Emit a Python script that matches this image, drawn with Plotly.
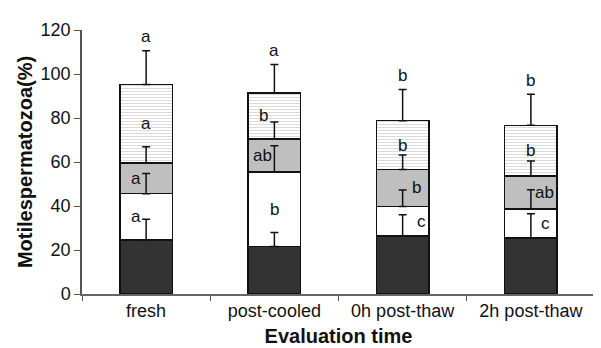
import plotly.graph_objects as go
import numpy as np

categories = ["fresh", "post-cooled", "0h post-thaw", "2h post-thaw"]

dark = [24.6, 21.6, 26.3, 25.5]
dark_err = [9.4, 6.3, 9.7, 11.0]
white = [21.0, 33.9, 13.5, 13.2]
white_err = [9.2, 11.9, 7.5, 8.7]
gray = [13.9, 15.0, 16.8, 15.0]
gray_err = [7.4, 7.7, 6.6, 6.8]
dotted = [35.7, 20.9, 22.2, 23.0]
dotted_err = [15.4, 12.9, 14.1, 14.1]

white_letters = ["a", "b", "c", "c"]
gray_letters = ["a", "ab", "b", "ab"]
dotted_letters = ["a", "b", "b", "b"]
total_letters = ["a", "a", "b", "b"]

y_ticks = [0, 20, 40, 60, 80, 100, 120]

FONT = "Liberation Sans, Arial, sans-serif"

fig = go.Figure()
segments = [
    (dark, dict(color="#333333")),
    (white, dict(color="#ffffff")),
    (gray, dict(color="#bfbfbf")),
    (dotted, dict(color="#ffffff", pattern=dict(shape="-", size=3, solidity=0.25, fgcolor="#a0a0a0", bgcolor="#ffffff"))),
]
for vals, mk in segments:
    mk = dict(mk)
    mk["line"] = dict(color="#111111", width=1.5)
    fig.add_trace(go.Bar(x=categories, y=vals, marker=mk, showlegend=False))

bottoms = np.zeros(4)
tops = []
for vals in [dark, white, gray, dotted]:
    top = bottoms + np.array(vals)
    tops.append((bottoms.copy(), top.copy()))
    bottoms = top

for (b, t), err in zip(tops, [dark_err, white_err, gray_err, dotted_err]):
    fig.add_trace(go.Scatter(
        x=categories, y=t, mode="markers", marker=dict(size=1, opacity=0),
        error_y=dict(type="data", array=err, arrayminus=[0] * 4, symmetric=False,
                     color="#111111", thickness=1.5, width=4),
        showlegend=False, hoverinfo="skip"))

white_shift = [-10, 0, 19, 15]
gray_shift = [-10, -12, 14, 14]
dotted_shift = [0, -11, 0, 0]

for seg_idx, letters, shifts in [(1, white_letters, white_shift),
                                  (2, gray_letters, gray_shift),
                                  (3, dotted_letters, dotted_shift)]:
    b, t = tops[seg_idx]
    for i, cat in enumerate(categories):
        fig.add_annotation(x=cat, y=(b[i] + t[i]) / 2, text=letters[i], showarrow=False,
                           xshift=shifts[i], font=dict(family=FONT, size=17, color="#111111"))

total_top = tops[3][1] + np.array(dotted_err)
for i, cat in enumerate(categories):
    fig.add_annotation(x=cat, y=total_top[i], text=total_letters[i], showarrow=False,
                       yshift=14, font=dict(family=FONT, size=17, color="#111111"))

fig.update_layout(
    barmode="stack",
    bargap=0.59,
    width=601, height=348,
    margin=dict(l=74, r=14, t=21, b=61),
    plot_bgcolor="white", paper_bgcolor="white",
    font=dict(family=FONT, color="#111111"),
)
fig.update_xaxes(
    range=[-0.5, 3.5], tickson="boundaries", ticks="outside", ticklen=5, tickcolor="#555555",
    showline=True, linecolor="#666666", linewidth=1.5, showgrid=False,
    tickfont=dict(size=18, family=FONT),
    title=dict(text="<b>Evaluation time</b>", font=dict(size=20, family=FONT), standoff=9),
)
fig.update_yaxes(
    range=[0, 120], tickvals=y_ticks, ticks="outside", ticklen=6, tickcolor="#555555",
    showline=True, linecolor="#555555", linewidth=1.5, showgrid=False, zeroline=False,
    tickfont=dict(size=18, family=FONT),
    title=dict(text="<b>Motilespermatozoa(%)</b>", font=dict(size=20, family=FONT), standoff=3),
)

fig.write_html("out.html")
